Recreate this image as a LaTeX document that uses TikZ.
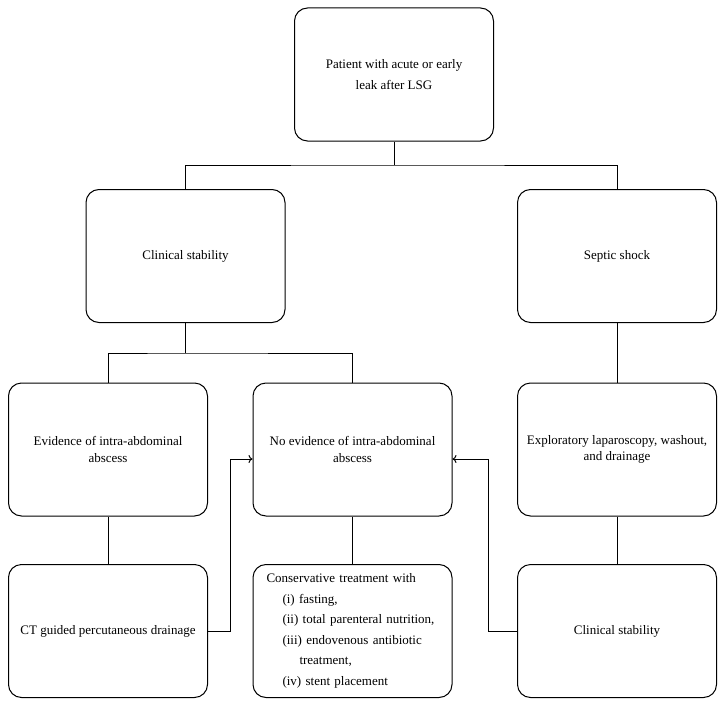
\documentclass[tikz,border=0pt]{standalone}
\usepackage{fontspec}
\setmainfont{Liberation Serif}
\usetikzlibrary{arrows.meta}

\begin{document}
\begin{tikzpicture}[x=1pt,y=-1pt,line width=1pt,
    box/.style={draw,rounded corners=13pt,minimum width=199pt,minimum height=133pt,
      align=center,font=\fontsize{13}{16.5}\selectfont},
    wide/.style={font=\fontsize{13}{20.5}\selectfont},
    listbox/.style={box,wide,align=left,text width=172pt,inner xsep=13.5pt}]
    \useasboundingbox (0,0) rectangle (725,706);
    \node [box,wide] (leak) at (394,74.5) {Patient with acute or early\\leak after LSG};
    \node [box] (stable) at (185.5,256) {Clinical stability};
    \node [box] (shock) at (617,256) {Septic shock};
    \node [box] (abscess) at (108,449.5) {Evidence of intra-abdominal\\abscess};
    \node [box] (noabscess) at (352.5,449.5) {No evidence of intra-abdominal\\abscess};
    \node [box] (explore) at (617,449.5) {Exploratory laparoscopy, washout,\\and drainage};
    \node [box] (ctdrain) at (108,631) {CT guided percutaneous drainage};
    \node [listbox] (conserv) at (352.5,631) {Conservative treatment with\\
      \hspace*{16pt}(i) fasting,\\
      \hspace*{16pt}(ii) total parenteral nutrition,\\
      \hspace*{16pt}(iii) endovenous antibiotic\\
      \hspace*{33pt}treatment,\\
      \hspace*{16pt}(iv) stent placement};
    \node [box] (stable2) at (617,631) {Clinical stability};
    \coordinate (split1) at (394,165);
    \coordinate (split2) at (185.5,353);
    \coordinate (bendL) at (230,459);
    \coordinate (bendR) at (488,459);
    \draw (leak) -- (split1);
    \draw (stable.north) |- (split1) -| (shock.north);
    \draw (stable) -- (split2);
    \draw (abscess.north) |- (split2) -| (noabscess.north);
    \draw (shock) -- (explore);
    \draw (explore) -- (stable2);
    \draw (abscess) -- (ctdrain);
    \draw (noabscess) -- (conserv);
    \draw [-{To[length=4pt,width=8pt]}] (ctdrain.east) -| (bendL) -- (noabscess.west |- bendL);
    \draw [-{To[length=4pt,width=8pt]}] (stable2.west) -| (bendR) -- (noabscess.east |- bendR);
\end{tikzpicture}
\end{document}
